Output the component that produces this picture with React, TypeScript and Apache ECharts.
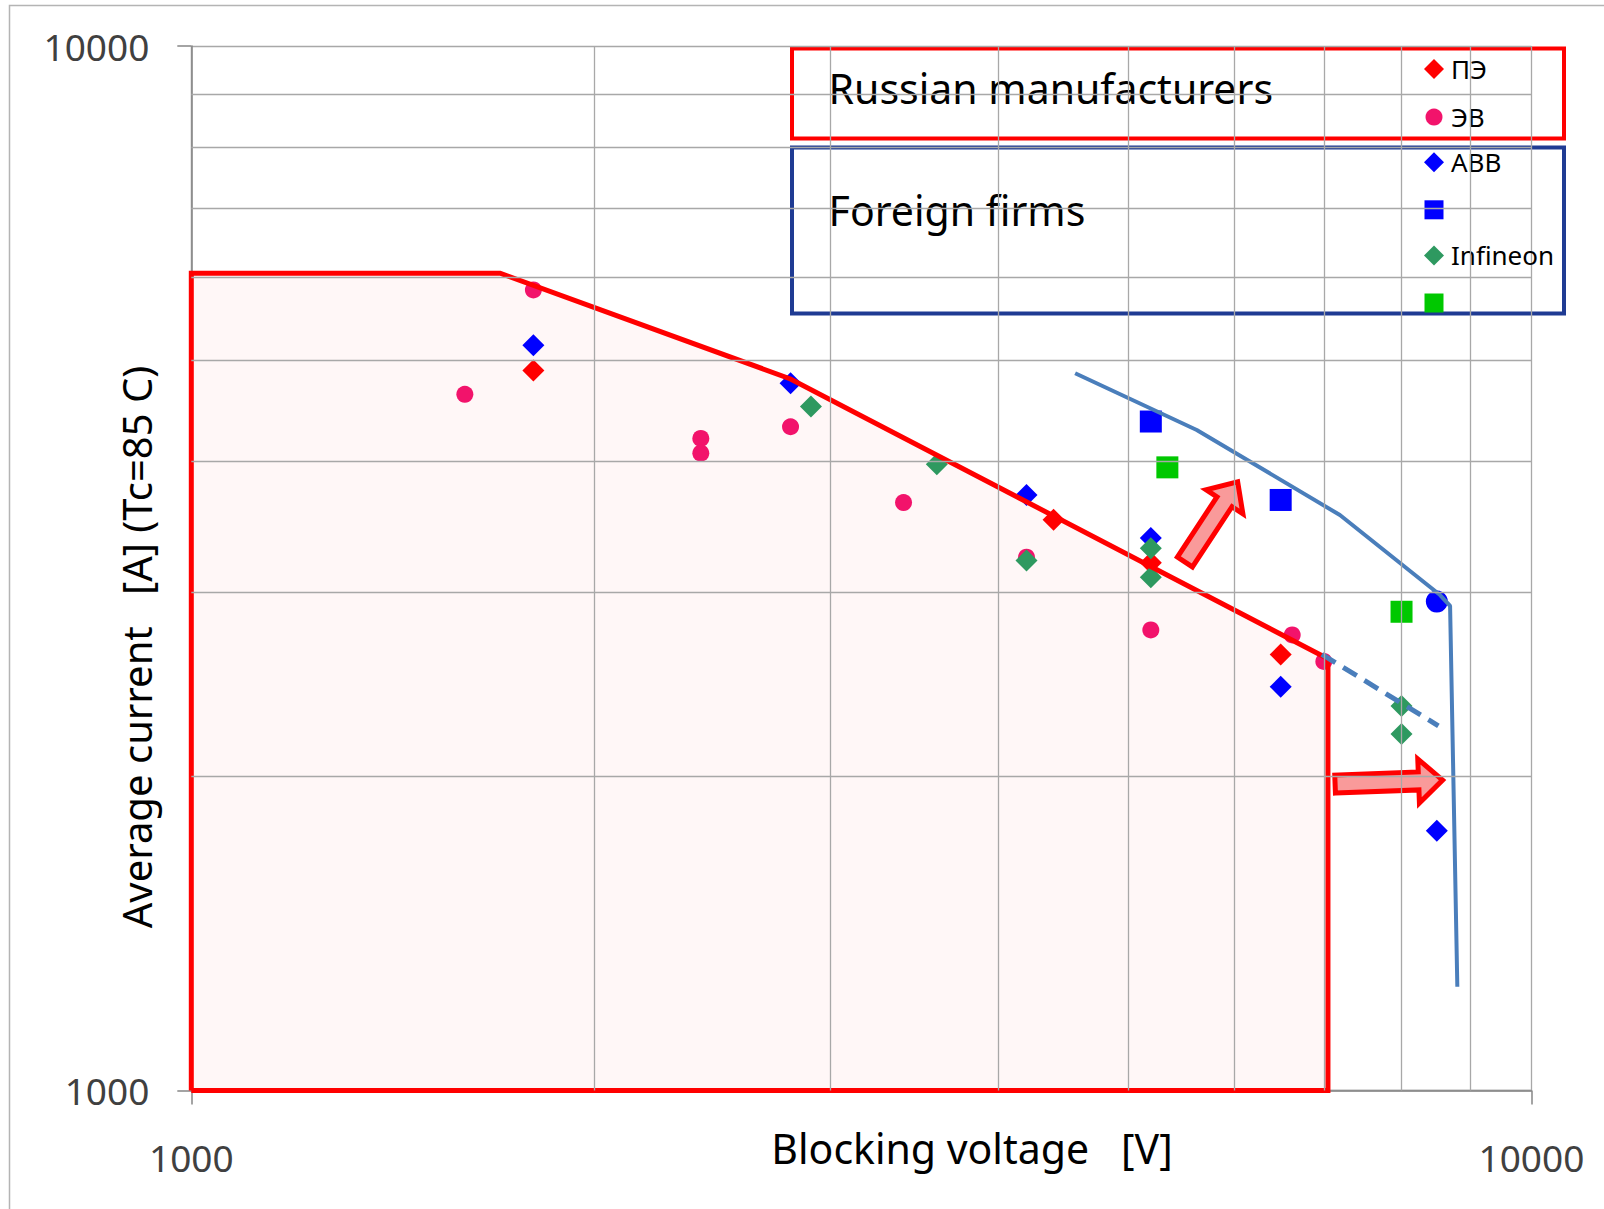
import React, { useEffect, useRef } from "react";
import * as echarts from "echarts";

// ---- grid / tick values ----
const VOLT_GRID = [2000, 3000, 4000, 5000, 6000, 7000, 8000, 9000];
const CURRENT_GRID = [2000, 3000, 4000, 5000, 6000, 7000, 8000, 9000];

// ---- scatter data (blocking voltage V, average current A) ----
const PE_V = [1800, 4400, 5200, 6500];
const PE_I = [4890, 3520, 3200, 2615];

const EV_V = [1800, 1600, 2400, 2400, 2800, 3400, 4200, 5200, 6630, 7000];
const EV_I = [5840, 4640, 4210, 4075, 4320, 3655, 3240, 2760, 2730, 2575];

const ABB_V = [1800, 2800, 4200, 5200, 6500, 8500];
const ABB_I = [5170, 4755, 3717, 3380, 2435, 1773];

const ABB_SQ_V = [5200, 6500, 8500];
const ABB_SQ_I = [4370, 3676, 2938];
const ABB_SQ_SYMBOL = ["rect", "rect", "circle"];

const INF_V = [2900, 3600, 4200, 5200, 5200, 8000, 8000];
const INF_I = [4516, 3977, 3216, 3305, 3100, 2334, 2194];

const INF_SQ_V = [5350, 8000];
const INF_SQ_I = [3950, 2873];

// ---- Russian manufacturers region (closed outline) ----
const REGION_V = [1000, 1000, 1700, 2800, 7050, 7050, 1000];
const REGION_I = [1000, 6060, 6060, 4800, 2590, 1000, 1000];

// ---- foreign firms envelope ----
const FOREIGN_V = [4566, 5627, 7196, 8548, 8696, 8805];
const FOREIGN_I = [4861, 4289, 3556, 2981, 2910, 1257];

// ---- dashed extension ----
const TREND_V = [6976, 8523];
const TREND_I = [2616, 2234];

// ---- arrows: from (V, I) to (V, I) ----
const ARROW_FROM_V = [5514, 7137];
const ARROW_FROM_I = [3206, 1965];
const ARROW_TO_V = [6054, 8629];
const ARROW_TO_I = [3848, 1983];

const LEGEND_NAMES = ["ПЭ", "ЭВ", "ABB", "ABB-square", "Infineon", "Infineon-square"];
const LEGEND_LABELS = ["ПЭ", "ЭВ", "ABB", "", "Infineon", ""];
const LEGEND_ICONS = ["diamond", "circle", "diamond", "rect", "diamond", "rect"];

const FONT = "Noto Sans";

const zip = (a: number[], b: number[]) => a.map((v, i) => [v, b[i]]);

export default function App() {
  const ref = useRef<HTMLDivElement>(null);

  useEffect(() => {
    if (!ref.current) return;
    const chart = echarts.init(ref.current, undefined, { renderer: "svg" });

    const gridLine = { color: "#A8A8A8", width: 1.3 };
    const axisCommon = {
      type: "log" as const,
      logBase: 10,
      min: 1000,
      max: 10000,
      axisLine: { show: true, lineStyle: { color: "#868686", width: 1.5 } },
      axisTick: { show: true, inside: false, length: 14, lineStyle: { color: "#868686", width: 1.5 } },
      splitLine: { show: true, lineStyle: gridLine },
      minorTick: { show: false },
      minorSplitLine: { show: false },
    };

    const legends = LEGEND_NAMES.map((n, i) => {
      const size = LEGEND_ICONS[i] === "diamond" ? 20 : LEGEND_ICONS[i] === "circle" ? 17 : 19;
      const hasText = LEGEND_LABELS[i] !== "";
      return {
        orient: "vertical",
        left: 1434 - size / 2,
        top: 70 + i * 46.6 - size / 2 - (hasText ? 4 : 0),
        padding: 0,
        itemWidth: size,
        itemHeight: size,
        selectedMode: false,
        data: [{ name: n, icon: LEGEND_ICONS[i] }],
        formatter: () => LEGEND_LABELS[i],
        itemStyle: { opacity: 1 },
        textStyle: { fontSize: 26, fontFamily: FONT, color: "#000", padding: [0, 0, 0, 12 - size / 2] },
      };
    });

    const scatterBase = { type: "scatter", z: 2, silent: true };

    const option: any = {
      animation: false,
      backgroundColor: "#ffffff",
      grid: { left: 191.3, top: 46, right: 72.6, bottom: 118.5, containLabel: false, outerBoundsMode: "none" },
      xAxis: {
        ...axisCommon,
        axisLabel: {
          fontSize: 37,
          fontFamily: FONT,
          color: "#404040",
          margin: 48,
          formatter: (v: number) => String(Math.round(v)),
        },
      },
      yAxis: {
        ...axisCommon,
        axisLabel: {
          fontSize: 37,
          fontFamily: FONT,
          color: "#404040",
          margin: 42,
          formatter: (v: number) => String(Math.round(v)),
        },
      },
      legend: legends,
      graphic: [
        {
          type: "rect",
          silent: true,
          shape: { x: 9.5, y: 5.5, width: 1700, height: 1300 },
          style: { fill: "none", stroke: "#B4B4B4", lineWidth: 1.5 },
        },
        {
          type: "rect",
          silent: true,
          shape: { x: 792, y: 48.6, width: 772, height: 90 },
          style: { fill: "none", stroke: "#FF0000", lineWidth: 4 },
        },
        {
          type: "rect",
          silent: true,
          shape: { x: 792, y: 147.5, width: 772, height: 166 },
          style: { fill: "none", stroke: "#1F3B93", lineWidth: 4 },
        },
        {
          type: "text",
          silent: true,
          x: 828.6,
          y: 88,
          style: { text: "Russian manufacturers", fontSize: 41, fontFamily: FONT, fill: "#000", align: "left", verticalAlign: "middle" },
        },
        {
          type: "text",
          silent: true,
          x: 828.6,
          y: 210,
          style: { text: "Foreign firms", fontSize: 41, fontFamily: FONT, fill: "#000", align: "left", verticalAlign: "middle" },
        },
        {
          type: "text",
          silent: true,
          x: 972,
          y: 1148,
          style: { text: "Blocking voltage   [V]", fontSize: 41, fontFamily: FONT, fill: "#000", align: "center", verticalAlign: "middle" },
        },
        {
          type: "text",
          silent: true,
          x: 136,
          y: 647,
          rotation: Math.PI / 2,
          style: { text: "Average current   [A] (Tc=85 C)", fontSize: 40, fontFamily: FONT, fill: "#000", align: "center", verticalAlign: "middle" },
        },
      ],
      series: [
        {
          name: "region-fill",
          type: "line",
          z: 1,
          silent: true,
          clip: false,
          symbol: "none",
          data: zip(REGION_V, REGION_I).slice(1, 6),
          lineStyle: { width: 0, opacity: 0 },
          areaStyle: { color: "rgba(255,0,0,0.045)", origin: "start" },
          markLine: {
            silent: true,
            symbol: ["none", "none"],
            label: { show: false },
            emphasis: { disabled: true },
            lineStyle: { color: "#A8A8A8", width: 1.3, type: "solid" },
            data: [
              ...VOLT_GRID.map((v) => ({ xAxis: v })),
              ...CURRENT_GRID.map((v) => ({ yAxis: v })),
            ],
          },
        },
        {
          ...scatterBase,
          name: "ПЭ",
          symbol: "diamond",
          symbolSize: 22,
          itemStyle: { color: "#FF0000", opacity: 1 },
          data: zip(PE_V, PE_I),
        },
        {
          ...scatterBase,
          name: "ЭВ",
          symbol: "circle",
          symbolSize: 17,
          itemStyle: { color: "#F2136B", opacity: 1 },
          data: zip(EV_V, EV_I),
        },
        {
          ...scatterBase,
          name: "ABB",
          symbol: "diamond",
          symbolSize: 22,
          itemStyle: { color: "#0000FF", opacity: 1 },
          data: zip(ABB_V, ABB_I),
        },
        {
          ...scatterBase,
          name: "ABB-square",
          symbol: "rect",
          symbolSize: 22,
          itemStyle: { color: "#0000FF", opacity: 1 },
          data: zip(ABB_SQ_V, ABB_SQ_I).map((p, i) => ({ value: p, symbol: ABB_SQ_SYMBOL[i] })),
        },
        {
          ...scatterBase,
          name: "Infineon",
          symbol: "diamond",
          symbolSize: 22,
          itemStyle: { color: "#2E9960", opacity: 1 },
          data: zip(INF_V, INF_I),
        },
        {
          ...scatterBase,
          name: "Infineon-square",
          symbol: "rect",
          symbolSize: 22,
          itemStyle: { color: "#00C800", opacity: 1 },
          data: zip(INF_SQ_V, INF_SQ_I),
        },
        {
          name: "region-outline",
          type: "line",
          z: 3,
          silent: true,
          clip: false,
          symbol: "none",
          data: zip(REGION_V, REGION_I),
          lineStyle: { color: "#FF0000", width: 5, join: "miter" },
        },
        {
          name: "foreign-envelope",
          type: "line",
          z: 3,
          silent: true,
          clip: false,
          symbol: "none",
          data: zip(FOREIGN_V, FOREIGN_I),
          lineStyle: { color: "#4A7EBB", width: 4 },
        },
        {
          name: "trend",
          type: "line",
          z: 3,
          silent: true,
          clip: false,
          symbol: "none",
          data: zip(TREND_V, TREND_I),
          lineStyle: { color: "#4A7EBB", width: 5, type: [16, 9] },
        },
        {
          name: "arrows",
          type: "custom",
          z: 4,
          silent: true,
          clip: false,
          data: ARROW_FROM_V.map((v, i) => [v, ARROW_FROM_I[i], ARROW_TO_V[i], ARROW_TO_I[i]]),
          renderItem: (params: any, api: any) => {
            const p1 = api.coord([api.value(0), api.value(1)]);
            const p2 = api.coord([api.value(2), api.value(3)]);
            const dx = p2[0] - p1[0];
            const dy = p2[1] - p1[1];
            const L = Math.hypot(dx, dy) || 1;
            const ux = dx / L;
            const uy = dy / L;
            const nx = -uy;
            const ny = ux;
            const sw = 9;
            const hw = 22;
            const hl = 24;
            const tx = p2[0] - ux * 3;
            const ty = p2[1] - uy * 3;
            const bx = tx - ux * hl;
            const by = ty - uy * hl;
            const pts = [
              [p1[0] + nx * sw, p1[1] + ny * sw],
              [bx + nx * sw, by + ny * sw],
              [bx + nx * hw, by + ny * hw],
              [tx, ty],
              [bx - nx * hw, by - ny * hw],
              [bx - nx * sw, by - ny * sw],
              [p1[0] - nx * sw, p1[1] - ny * sw],
            ];
            return {
              type: "polygon",
              shape: { points: pts },
              style: { fill: "#F99A9A", stroke: "#FF0000", lineWidth: 5, lineJoin: "miter" },
            };
          },
        },
      ],
    };

    chart.setOption(option);
    return () => {
      chart.dispose();
    };
  }, []);

  return (
    <div
      ref={ref}
      style={{ position: "fixed", left: 0, top: 0, width: 1604, height: 1209, background: "#fff" }}
    />
  );
}
